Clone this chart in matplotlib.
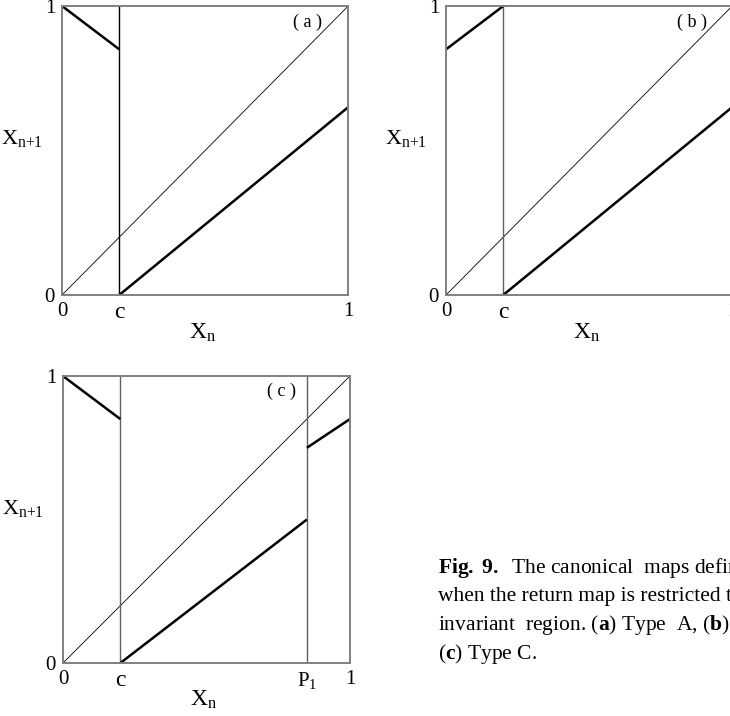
import matplotlib
matplotlib.use("Agg")
import matplotlib.pyplot as plt

plt.rcParams['font.family'] = ['Liberation Serif', 'DejaVu Serif']
plt.rcParams['mathtext.fontset'] = 'custom'
plt.rcParams['mathtext.rm'] = 'Liberation Serif'
plt.rcParams['mathtext.bf'] = 'Liberation Serif:bold'
plt.rcParams['mathtext.it'] = 'Liberation Serif:italic'

# break point and the second discontinuity of type C
c = 0.2
p1 = 0.85

# branches of each map: list of (x0, y0, x1, y1)
branches_a = [(0.0, 1.0, c, 0.85), (c, 0.0, 1.0, 0.65)]
branches_b = [(0.0, 0.85, c, 1.0), (c, 0.0, 1.0, 0.65)]
branches_c = [(0.0, 1.0, c, 0.85), (c, 0.0, p1, 0.5), (p1, 0.75, 1.0, 0.85)]

xticks_ab = [0, c, 1]
xticklabels_ab = ['0', 'c', '1']
xticks_c = [0, c, p1, 1]
xticklabels_c = ['0', 'c', r'$\mathrm{P}_1$', '1']

caption = [
    r"$\mathbf{Fig.\ 9.}$  The canonical  maps defined",
    "when the return map is restricted to the",
    r"invariant  region. ($\mathbf{a}$) Type  A, ($\mathbf{b}$) Type B,",
    r"($\mathbf{c}$) Type C.",
]

fig = plt.figure(figsize=(7.3, 7.16), dpi=100)


def draw_map(rect, branches, cuts, cut_colors, ticks, ticklabels, tag, tag_x):
    ax = fig.add_axes(rect)
    ax.set_xlim(0, 1)
    ax.set_ylim(0, 1)
    for s in ax.spines.values():
        s.set_color('#808080')
        s.set_linewidth(1.4)
    # diagonal y = x
    ax.plot([0, 1], [0, 1], color='black', lw=0.6)
    for xc, col in zip(cuts, cut_colors):
        ax.plot([xc, xc], [0, 1], color=col, lw=1.0)
    for x0, y0, x1, y1 in branches:
        ax.plot([x0, x1], [y0, y1], color='black', lw=1.8, solid_capstyle='butt')
    ax.set_xticks(ticks)
    ax.set_xticklabels(ticklabels)
    ax.set_yticks([0, 1])
    ax.set_yticklabels(['0', '1'])
    ax.tick_params(length=0, labelsize=15, pad=5)
    for lab in ax.get_xticklabels():
        if lab.get_text() == 'c':
            lab.set_fontsize(17)
    ax.text(0.49, -0.13, r'$\mathrm{X}_{\mathrm{n}}$', transform=ax.transAxes,
            ha='center', va='center', fontsize=17)
    ax.text(-0.14, 0.54, r'$\mathrm{X}_{\mathrm{n{+}1}}$', transform=ax.transAxes,
            ha='center', va='center', fontsize=16)
    ax.text(tag_x, 0.945, tag, transform=ax.transAxes, ha='center', va='center',
            fontsize=13)
    return ax


draw_map([0.085, 0.588, 0.392, 0.4036], branches_a, [c], ['black'],
         xticks_ab, xticklabels_ab, '( a )', 0.857)
draw_map([0.611, 0.588, 0.392, 0.4036], branches_b, [c], ['#606060'],
         xticks_ab, xticklabels_ab, '( b )', 0.86)
draw_map([0.0863, 0.074, 0.393, 0.4008], branches_c, [c, p1], ['#606060', '#606060'],
         xticks_c, xticklabels_c, '( c )', 0.763)

y = 573
for line in caption:
    fig.text(438 / 730, 1 - y / 716, line, ha='left', va='baseline', fontsize=15.5)
    y += 28.5

fig.savefig('out.png', dpi=100)
